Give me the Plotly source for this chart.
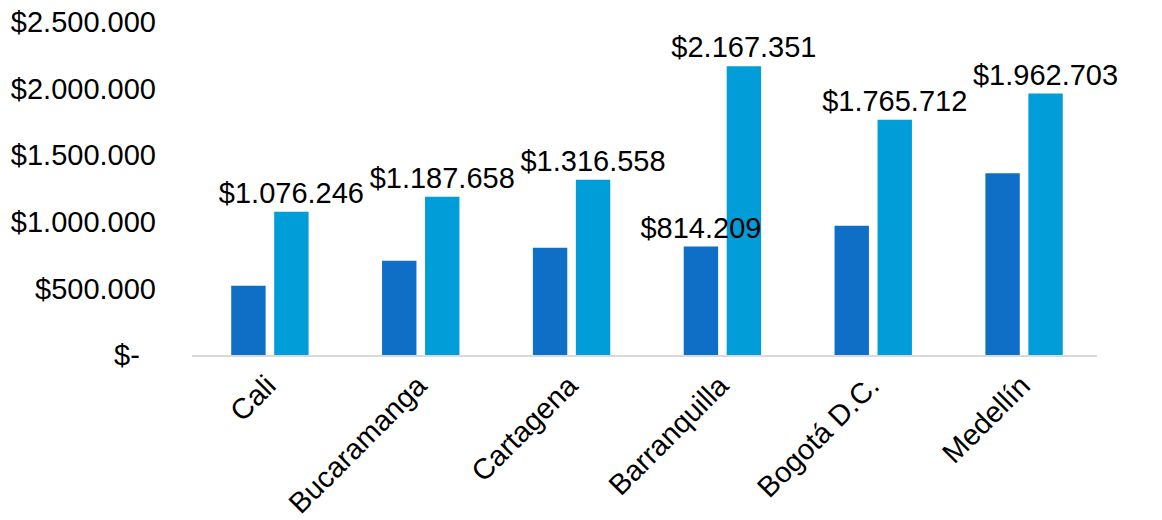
import plotly.graph_objects as go

ciudades = ["Cali", "Bucaramanga", "Cartagena", "Barranquilla", "Bogotá D.C.", "Medellín"]
serie_1 = [520000, 708000, 806000, 814209, 971000, 1365000]
serie_2 = [1076246, 1187658, 1316558, 2167351, 1765712, 1962703]
etiquetas_serie_1 = [False, False, False, True, False, False]
tick_vals = [0, 500000, 1000000, 1500000, 2000000, 2500000]
tick_text = ["$-\u00a0\u00a0", "$500.000", "$1.000.000", "$1.500.000", "$2.000.000", "$2.500.000"]


def fmt(v):
    return "$" + f"{v:,}".replace(",", ".")


FONT = "Liberation Sans, Arial, sans-serif"
FS = 29

fig = go.Figure()
# light series first so the dark series (and its label) is drawn on top
fig.add_trace(go.Bar(
    x=ciudades, y=serie_2, marker_color="#009DD9",
    marker_line=dict(width=16, color="rgba(0,0,0,0)"),
    offset=0.045, width=0.228,
    text=[fmt(v) for v in serie_2],
    textposition="outside", constraintext="none", cliponaxis=False,
    textfont=dict(size=FS, color="#000000", family=FONT),
))
fig.add_trace(go.Bar(
    x=ciudades, y=serie_1, marker_color="#0F6FC6",
    marker_line=dict(width=16, color="rgba(0,0,0,0)"),
    offset=-0.24, width=0.228,
    text=[fmt(v) if s else "" for v, s in zip(serie_1, etiquetas_serie_1)],
    textposition="outside", constraintext="none", cliponaxis=False,
    textfont=dict(size=FS, color="#000000", family=FONT),
))

fig.update_layout(
    width=1162, height=520,
    margin=dict(l=192, r=65, t=22, b=165),
    paper_bgcolor="white", plot_bgcolor="white",
    barmode="overlay",
    showlegend=False,
    font=dict(family=FONT, size=FS, color="#000000"),
)
fig.update_yaxes(
    range=[0, 2500000], tickvals=tick_vals, ticktext=tick_text,
    showgrid=False, zeroline=False, showline=False, automargin=False,
    tickfont=dict(size=FS, color="#000000"), ticklabelstandoff=35,
)
fig.update_xaxes(
    range=[-0.5, 5.5], automargin=False,
    tickangle=-45, showline=True, linecolor="#D9D9D9", linewidth=2,
    tickfont=dict(size=FS, color="#000000"),
)

fig.write_html("out.html")
